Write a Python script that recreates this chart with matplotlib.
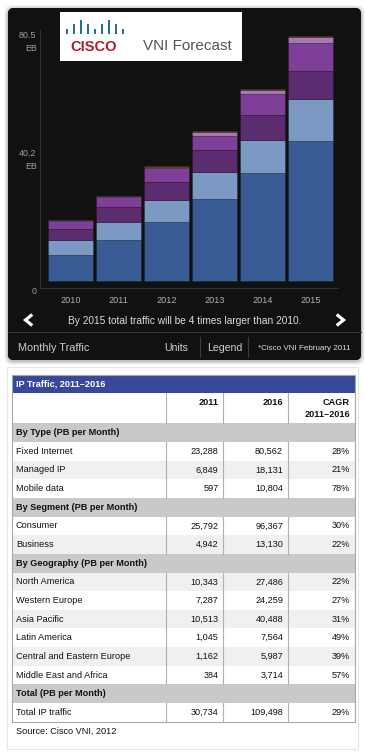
import numpy as np
import matplotlib.pyplot as plt
from matplotlib.patches import FancyBboxPatch, Rectangle

plt.rcParams['font.family'] = ['Liberation Sans', 'DejaVu Sans']

# chart data (EB per month), stacked bottom to top
years = ['2010', '2011', '2012', '2013', '2014', '2015']
layer_1 = [8.4, 13.3, 19.3, 26.8, 35.3, 46.0]
layer_2 = [4.9, 6.0, 7.3, 9.0, 10.9, 13.7]
layer_3 = [3.6, 5.0, 5.7, 7.0, 8.2, 9.3]
layer_4 = [2.6, 3.1, 4.6, 4.9, 7.1, 9.0]
layer_5 = [0.35, 0.35, 0.45, 1.1, 1.1, 2.0]
layer_6 = [0.25, 0.2, 0.2, 0.3, 0.3, 0.4]
layer_colors = ['#3a5c94', '#7b99c3', '#5b2c6f', '#7f3f99', '#a677bd', '#a8642a']
ytick_vals = [80.5, 40.2, 0]
ytick_labels = ['80.5\nEB', '40.2\nEB', '0']

# table data
table_title = 'IP Traffic, 2011\u20132016'
col_heads = ['2011', '2016', 'CAGR\n2011\u20132016']
section_titles = ['By Type (PB per Month)', 'By Segment (PB per Month)',
                  'By Geography (PB per Month)', 'Total (PB per Month)']
row_labels = [['Fixed Internet', 'Managed IP', 'Mobile data'],
              ['Consumer', 'Business'],
              ['North America', 'Western Europe', 'Asia Pacific', 'Latin America',
               'Central and Eastern Europe', 'Middle East and Africa'],
              ['Total IP traffic']]
vals_2011 = [[23288, 6849, 597], [25792, 4942],
             [10343, 7287, 10513, 1045, 1162, 384], [30734]]
vals_2016 = [[80562, 18131, 10804], [96367, 13130],
             [27486, 24259, 40488, 7564, 5987, 3714], [109498]]
cagr = [[28, 21, 78], [30, 22], [22, 27, 31, 49, 39, 57], [29]]

fig = plt.figure(figsize=(3.65, 7.55), dpi=100)
fig.patch.set_facecolor('white')
bg = fig.add_axes([0, 0, 1, 1], zorder=0)
bg.axis('off')

# widget shadow + body
for off, a in [(4, 0.04), (3, 0.05), (2, 0.07), (1, 0.1)]:
    bg.add_patch(FancyBboxPatch((8 - off, 8 - off + 1), 353 + 2 * off, 352 + 2 * off,
                                boxstyle='round,pad=0,rounding_size=8', fc='black', ec='none', alpha=a))
widget = FancyBboxPatch((8, 8), 353, 352, boxstyle='round,pad=0,rounding_size=6', fc='#111111', ec='none')
bg.add_patch(widget)
yy, xx = np.mgrid[0:352, 0:353]
d = np.sqrt(((xx - 165) / 230.0) ** 2 + ((yy - 145) / 190.0) ** 2)
shade = 0.175 - 0.14 * np.clip(d, 0, 1) ** 1.1
im = bg.imshow(shade, cmap='gray', vmin=0, vmax=1, extent=(8, 361, 360, 8),
               aspect='auto', interpolation='bilinear')
im.set_clip_path(widget)
strip = np.linspace(0.16, 0.07, 30)[:, None] * np.ones((30, 2))
im2 = bg.imshow(strip, cmap='gray', vmin=0, vmax=1, extent=(8, 361, 360, 332),
                aspect='auto', interpolation='bilinear')
im2.set_clip_path(widget)
bg.plot([8, 361], [332, 332], color='#353535', lw=0.8)
bg.plot([200, 200], [337, 357], color='#3c3c3c', lw=0.8)
bg.plot([248, 248], [337, 357], color='#3c3c3c', lw=0.8)

# logo box
bg.add_patch(Rectangle((60, 12), 182, 49, fc='white', ec='none'))
logo_h = [1, 2, 3, 2, 1, 2, 3, 2, 1]
bg.bar(np.linspace(67, 123, 9), [-(h * 4.3 + 0.5) for h in logo_h], bottom=33.5,
       width=2.1, color='#286d98')
bg.text(94, 47, 'CISCO', fontsize=10.5, fontweight='bold', color='#b01c2e',
        ha='center', va='center')
bg.text(143, 46.5, 'VNI Forecast', fontsize=11, color='#555555', ha='left', va='center')

# widget texts
bg.plot([31, 25.5, 31], [315.5, 320, 324.5], color='white', lw=2.3, solid_joinstyle='miter')
bg.plot([338, 343.5, 338], [315.5, 320, 324.5], color='white', lw=2.3, solid_joinstyle='miter')
bg.text(185, 320.5, 'By 2015 total traffic will be 4 times larger than 2010.',
        fontsize=7.3, color='#dcdcdc', ha='center', va='center')
bg.text(18, 348, 'Monthly Traffic', fontsize=7.8, color='#cfcfcf', va='center')
bg.text(176, 348, 'Units', fontsize=7.6, color='#cfcfcf', ha='center', va='center')
bg.text(224.5, 348, 'Legend', fontsize=7.6, color='#cfcfcf', ha='center', va='center')
bg.text(351, 348, '*Cisco VNI February 2011', fontsize=5.8, color='#e0e0e0', ha='right', va='center')

# stacked bar chart
ax = fig.add_axes([40 / 365, 1 - 288 / 755, 298 / 365, 258 / 755], zorder=1)
ax.set_facecolor('none')
x = np.arange(len(years))
bottom = np.zeros(len(years))
for vals, col in zip([layer_1, layer_2, layer_3, layer_4, layer_5, layer_6], layer_colors):
    ax.bar(x, vals, width=0.94, bottom=bottom, color=col, edgecolor=(0, 0, 0, 0.3), linewidth=0.5)
    bottom += np.array(vals)
ax.set_xlim(-0.635, 5.573)
ax.set_ylim(-2.4, 82.4)
ax.set_xticks(x)
ax.set_xticklabels(years)
ax.tick_params(axis='x', length=0, pad=5.6, labelsize=6.6, labelcolor='#b0b0b0')
ax.set_yticks([])
for s in ['top', 'right']:
    ax.spines[s].set_visible(False)
for s in ['left', 'bottom']:
    ax.spines[s].set_color('#303030')
    ax.spines[s].set_linewidth(0.8)
for v, lbl, dy in zip(ytick_vals, ytick_labels, [-4.6, -1.2, -8.1]):
    ax.annotate(lbl, xy=(0, v), xycoords=('axes fraction', 'data'), xytext=(-2.5, dy),
                textcoords='offset points', ha='right', va='center', fontsize=6.4,
                color='#a0a0a0', linespacing=1.5, annotation_clip=False)

# table panel
bg.add_patch(Rectangle((7, 367), 351, 382, fc='white', ec='#e6e6e6', lw=0.8))
tx0, tx1 = 11.5, 354.5
col_lines = [165.7, 223.3, 287.7]
col_right = [218.5, 283, 350]
top0, title_bot, head_bot, row_h = 375, 392.7, 423.3, 18.65
fs = 6.6
bg.add_patch(Rectangle((tx0, top0), tx1 - tx0, title_bot - top0, fc='#37489b', ec='none'))
bg.text(16, 384, table_title, fontsize=fs, fontweight='bold', color='white', va='center')
for cx in col_lines:
    bg.plot([cx, cx], [title_bot, head_bot], color='#b0b0b0', lw=0.8)
for xr, h in zip(col_right, col_heads):
    bg.text(xr, 398, h, fontsize=fs, fontweight='bold', color='#111111', ha='right', va='top',
            linespacing=1.45)

rows = []
for s, title in enumerate(section_titles):
    rows.append((title, None))
    for j, lbl in enumerate(row_labels[s]):
        rows.append((lbl, (vals_2011[s][j], vals_2016[s][j], cagr[s][j])))

for i, (lbl, vals) in enumerate(rows):
    top = head_bot + i * row_h
    mid = top + row_h / 2
    if vals is None:
        bg.add_patch(Rectangle((tx0, top), tx1 - tx0, row_h, fc='#c9c9c9', ec='none'))
        bg.text(16, mid, lbl, fontsize=fs, fontweight='bold', color='#111111', va='center')
        continue
    fc = '#f0f0f0' if i % 2 == 0 else 'white'
    bg.add_patch(Rectangle((tx0, top), tx1 - tx0, row_h, fc=fc, ec='none'))
    for cx in col_lines:
        bg.plot([cx, cx], [top, top + row_h], color='#b0b0b0', lw=0.8)
    bg.text(16, mid, lbl, fontsize=fs, color='#111111', va='center')
    texts = [f'{vals[0]:,}', f'{vals[1]:,}', f'{vals[2]}%']
    for xr, t in zip(col_right, texts):
        bg.text(xr, mid, t, fontsize=fs, color='#111111', ha='right', va='center')

table_bot = head_bot + len(rows) * row_h
bg.add_patch(Rectangle((tx0, top0), tx1 - tx0, table_bot - top0, fill=False, ec='#a8a8a8', lw=0.8))
bg.text(16, 731, 'Source: Cisco VNI, 2012', fontsize=fs, color='#111111', va='center')

bg.set_xlim(0, 365)
bg.set_ylim(755, 0)

fig.savefig('out.png', dpi=100, facecolor=fig.get_facecolor())
